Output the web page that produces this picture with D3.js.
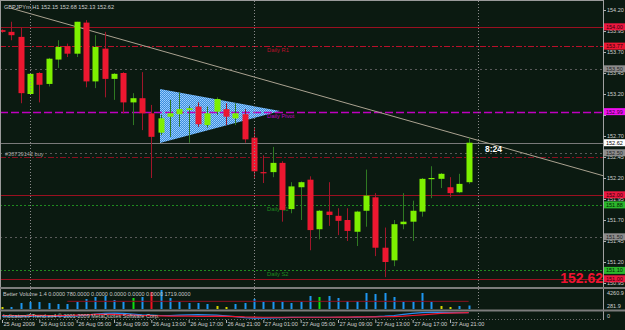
<!DOCTYPE html>
<html>
<head>
<meta charset="utf-8">
<script src="https://cdn.jsdelivr.net/npm/d3@7/dist/d3.min.js"></script>
<style>
body { margin: 0; background: #0b1a11; }
svg { display: block; font-family: "Liberation Sans", Arial, sans-serif; }
</style>
</head>
<body>
<svg id="chart" width="625" height="330"></svg>
<script>
// GBPJPYm H1, bar index 0 = 26 Aug 2009 00:00
var barIdx = d3.range(-3, 48);

var opens  = [153.96,153.94,153.88,153.20,153.45,153.32,153.61,153.77,153.68,154.05,153.35,153.74,153.38,153.45,153.10,153.15,152.97,152.74,152.93,152.96,153.01,153.05,152.83,152.99,153.02,152.91,152.96,152.68,152.27,152.27,152.38,151.83,152.09,152.18,151.59,151.80,151.75,151.70,151.56,151.81,151.97,151.37,151.22,151.65,151.68,151.80,152.20,152.19,152.09,152.03,152.15];
var highs  = [153.97,154.06,153.99,153.45,153.46,153.63,153.84,153.80,154.06,154.08,153.90,153.94,153.45,153.46,153.21,153.46,153.07,152.95,153.13,153.22,153.06,153.10,153.05,153.16,153.09,153.09,153.02,152.80,152.47,152.57,152.40,152.15,152.16,152.22,151.82,152.15,151.84,151.84,151.81,152.30,152.02,151.61,151.70,152.02,151.93,152.20,152.34,152.26,152.21,152.25,152.68];
var lows   = [153.93,153.84,153.09,153.19,153.10,153.29,153.51,153.64,153.64,153.28,153.27,153.16,153.13,152.97,152.83,152.77,152.20,152.71,152.69,152.81,152.62,152.81,152.80,152.95,152.83,152.83,152.62,152.20,152.14,152.21,151.68,151.78,151.70,151.34,151.47,151.63,151.52,151.45,151.39,151.62,151.27,151.02,151.15,151.59,151.45,151.74,151.96,152.08,151.97,152.02,152.13];
var closes = [153.94,153.90,153.21,153.44,153.31,153.62,153.76,153.68,154.06,153.35,153.76,153.38,153.44,153.10,153.15,152.97,152.69,152.91,152.97,153.02,153.03,152.84,152.97,153.14,152.93,152.97,152.66,152.28,152.26,152.38,151.82,152.10,152.15,151.58,151.81,151.76,151.69,151.57,151.80,151.99,151.37,151.20,151.65,151.68,151.81,152.19,152.20,152.25,152.02,152.13,152.62];

// Better Volume 1.4
var volumes = [450,450,1340,1570,1570,1340,1120,1120,1570,2240,2690,2920,2020,1570,2470,2690,3810,4261,2470,1570,1340,1340,1120,670,450,1120,1340,2240,1570,1570,1570,1340,1570,2920,2690,2920,2470,1790,1790,3590,3360,3590,2690,1570,1570,3590,1570,670,450,670,780];
var volSignal = ["low","n","n","n","n","n","n","n","n","n","n","n","n","n","churn","n","climax","n","n","n","n","n","n","low","low","n","n","n","n","n","n","n","n","n","churn","n","n","n","n","n","n","n","n","n","n","n","n","low","low","n","n"];
var volAvg = 1719;

// lower indicator (two lines)
var indRed  = [50,50,48,50,52,50,48,50,55,60,65,68,65,60,55,50,48,45,42,40,40,38,38,40,38,35,30,28,25,25,25,25,25,25,25,25,28,28,30,30,30,32,35,40,50,60,70,80,85,88,90];
var indBlue = [40,40,38,40,42,40,38,40,45,55,70,80,85,80,70,60,55,50,50,55,60,62,60,55,45,35,20,12,12,15,20,22,25,25,25,25,25,25,28,30,35,40,50,65,80,90,95,95,92,90,90];

var timeTicks  = [-3,1,5,9,13,17,21,25,29,33,37,41,45];
var timeLabels = ["25 Aug 2009","26 Aug 01:00","26 Aug 05:00","26 Aug 09:00","26 Aug 13:00","26 Aug 17:00","26 Aug 21:00","27 Aug 01:00","27 Aug 05:00","27 Aug 09:00","27 Aug 13:00","27 Aug 17:00","27 Aug 21:00"];
var priceTicks = [154.20,153.95,153.70,153.45,153.20,152.95,152.70,152.45,152.20,151.95,151.70,151.45,151.20,150.95];
var daySeps = [0, 24, 48];

var roundLevels  = [154.00, 152.00, 151.00];
var dottedLevels = [153.50, 152.50, 151.50];
var pivotNames   = ["Daily R1", "Daily Pivot", "Daily S1", "Daily S2"];
var pivotPrices  = [153.77, 152.99, 151.88, 151.10];
var orderPrice = 152.45, orderLabel = "#38739142 buy";
var bid = 152.62;
var header = "GBPJPYm,H1 152.15 152.68 152.13 152.62";
var volHeader = "Better Volume 1.4 0.0000 780.0000 0.0000 0.0000 0.0000 0.0000 1719.0000";
var timer = "8:24";

var trendPts = [[-2, 154.22], [47, 152.68]];
var triangle = [[13.93, 153.26], [26.8, 152.998], [13.93, 152.617]];

var svg = d3.select("#chart");
var W = 625, plotR = 603, plotB = 287;

var x = d3.scaleLinear().domain([-3, 48]).range([2, 478]);
var y = d3.scaleLinear().domain([150.95, 154.20]).range([283, 10]);
var vy = d3.scaleLinear().domain([0, 4260.9]).range([309, 290]);
var iy = d3.scaleLinear().domain([0, 100]).range([319, 312]);

svg.append("rect").attr("width", W).attr("height", 330).attr("fill", "#0b1a11");

var defs = svg.append("defs");
defs.append("clipPath").attr("id", "clipMain")
  .append("rect").attr("x", 0).attr("y", 0).attr("width", plotR).attr("height", plotB);
var pat = defs.append("pattern").attr("id", "hatch")
  .attr("width", 2).attr("height", 2).attr("patternUnits", "userSpaceOnUse");
pat.append("rect").attr("width", 2).attr("height", 2).attr("fill", "#3d8ede");
pat.append("rect").attr("width", 1).attr("height", 1).attr("fill", "#9fd0ff");
pat.append("rect").attr("x", 1).attr("y", 1).attr("width", 1).attr("height", 1).attr("fill", "#8cc4f8");

var main = svg.append("g").attr("clip-path", "url(#clipMain)");

// triangle object
main.append("path")
  .attr("d", d3.line().x(function(d){ return x(d[0]); }).y(function(d){ return y(d[1]); })(triangle) + "Z")
  .attr("fill", "url(#hatch)");

// horizontal levels
function hline(p, color, dash, w) {
  main.append("line")
    .attr("x1", 0).attr("x2", plotR)
    .attr("y1", Math.round(y(p)) + 0.5).attr("y2", Math.round(y(p)) + 0.5)
    .attr("stroke", color).attr("stroke-width", w || 1)
    .attr("stroke-dasharray", dash);
}
dottedLevels.forEach(function(p){ hline(p, "#5a5a5a", "2,3"); });
roundLevels.forEach(function(p){ hline(p, "#9a1020", null); });
var pivotColors = ["#b8102a", "#c000c0", "#1f8a1f", "#1f8a1f"];
var pivotDash = ["6,2,2,2", "8,3", "2,2", "2,2"];
pivotPrices.forEach(function(p, i){
  hline(p, pivotColors[i], pivotDash[i], i === 1 ? 1.6 : 1);
  main.append("text").attr("x", 267).attr("y", y(p) + 6)
    .attr("font-size", 5.8).attr("fill", pivotColors[i]).text(pivotNames[i]);
});
hline(orderPrice, "#8a1020", "6,2,2,2");
hline(bid, "#7a7a7a", null);
main.append("text").attr("x", 5).attr("y", y(orderPrice) - 1.5)
  .attr("font-size", 5.6).attr("fill", "#a8a8a8").text(orderLabel);

// day separators
daySeps.forEach(function(d){
  svg.append("line")
    .attr("x1", Math.round(x(d)) + 0.5).attr("x2", Math.round(x(d)) + 0.5)
    .attr("y1", 1).attr("y2", 320)
    .attr("stroke", "#8a8a8a").attr("stroke-dasharray", "1,2");
});

// trend line
var slope = (trendPts[1][1] - trendPts[0][1]) / (trendPts[1][0] - trendPts[0][0]);
var endIdx = x.invert(plotR);
main.append("line")
  .attr("x1", x(trendPts[0][0])).attr("y1", y(trendPts[0][1]))
  .attr("x2", plotR).attr("y2", y(trendPts[0][1] + slope * (endIdx - trendPts[0][0])))
  .attr("stroke", "#aaa290").attr("stroke-width", 1);

// candles
var bars = barIdx.map(function(b, i){
  return { i: b, o: opens[i], h: highs[i], l: lows[i], c: closes[i] };
});
var cg = main.append("g");
cg.selectAll("line.wick").data(bars).enter().append("line")
  .attr("x1", function(d){ return Math.round(x(d.i)) + 0.5; })
  .attr("x2", function(d){ return Math.round(x(d.i)) + 0.5; })
  .attr("y1", function(d){ return y(d.h); })
  .attr("y2", function(d){ return y(d.l); })
  .attr("stroke", function(d){ return d.c >= d.o ? "#2f7a22" : "#a0162a"; });
cg.selectAll("rect").data(bars).enter().append("rect")
  .attr("x", function(d){ return Math.round(x(d.i)) - 2.5; })
  .attr("width", 6)
  .attr("y", function(d){ return y(Math.max(d.o, d.c)); })
  .attr("height", function(d){ return Math.max(1.2, Math.abs(y(d.o) - y(d.c))); })
  .attr("fill", function(d){ return d.c >= d.o ? "#7df000" : "#ec1730"; });

// header and labels
svg.append("text").attr("x", 4).attr("y", 8.5).attr("font-size", 5.6)
  .attr("fill", "#d0d0d0").text(header);
svg.append("text").attr("x", 485).attr("y", y(bid) + 9).attr("font-size", 8.5)
  .attr("font-weight", "bold").attr("fill", "#ffffff").text(timer);
svg.append("text").attr("x", plotR).attr("y", 283).attr("text-anchor", "end")
  .attr("font-size", 14).attr("font-weight", "bold").attr("fill", "#ee1230")
  .text(bid.toFixed(2));

// frame
svg.append("line").attr("x1", 0).attr("x2", plotR).attr("y1", 0.5).attr("y2", 0.5).attr("stroke", "#9a9a9a");
svg.append("line").attr("x1", 0.5).attr("x2", 0.5).attr("y1", 0).attr("y2", 320).attr("stroke", "#9a9a9a");
svg.append("line").attr("x1", plotR + 0.5).attr("x2", plotR + 0.5).attr("y1", 0).attr("y2", 320).attr("stroke", "#a0a0a0");

// price boxes drawn over the axis; axis labels hidden where a box covers them
var boxPrices = roundLevels.concat(dottedLevels, pivotPrices, [bid]);

// right price axis
var yAxis = d3.axisRight(y).tickValues(priceTicks).tickSize(3)
  .tickFormat(function(d){ return d.toFixed(2); });
var ya = svg.append("g").attr("transform", "translate(" + plotR + ",0)").call(yAxis);
ya.select(".domain").remove();
ya.selectAll("line").attr("stroke", "#b0b0b0");
ya.selectAll("text").attr("font-size", 5.5).attr("fill", "#d0d0d0").attr("x", 4)
  .attr("display", function(d){
    return boxPrices.some(function(p){ return Math.abs(y(p) - y(d)) < 4; }) ? "none" : null;
  });

function box(p, fill, txt) {
  var yy = y(p);
  svg.append("rect").attr("x", 604).attr("y", yy - 3.5).attr("width", 21).attr("height", 7).attr("fill", fill);
  svg.append("text").attr("x", 606).attr("y", yy + 2).attr("font-size", 5.5)
    .attr("fill", txt).text(p.toFixed(2));
}
roundLevels.forEach(function(p){ box(p, "#ec1740", "#300008"); });
dottedLevels.forEach(function(p){ box(p, "#8c8c8c", "#202020"); });
box(pivotPrices[0], "#ec1733", "#300008");
box(pivotPrices[1], "#f010f0", "#300030");
box(pivotPrices[2], "#2cb82c", "#002000");
box(pivotPrices[3], "#2cb82c", "#002000");
box(bid, "#ffffff", "#000000");

// separators for sub windows
svg.append("rect").attr("x", 0).attr("y", 287).attr("width", W).attr("height", 2).attr("fill", "#7c7c7c");
svg.append("rect").attr("x", 0).attr("y", 309.5).attr("width", W).attr("height", 2).attr("fill", "#7c7c7c");

// volume panel
var volColor = { n: "#1e96f0", low: "#d8d800", churn: "#10e010", climax: "#f01020" };
svg.append("g").selectAll("rect").data(volumes).enter().append("rect")
  .attr("x", function(d, i){ return Math.round(x(barIdx[i])) - 0.5; })
  .attr("width", 2)
  .attr("y", function(d){ return vy(d); })
  .attr("height", function(d){ return 309 - vy(d); })
  .attr("fill", function(d, i){ return volColor[volSignal[i]]; });
svg.append("line").attr("x1", x(4)).attr("x2", x(47))
  .attr("y1", vy(volAvg)).attr("y2", vy(volAvg)).attr("stroke", "#8c1020");
svg.append("text").attr("x", 3).attr("y", 296).attr("font-size", 5.5)
  .attr("fill", "#c8c8c8").text(volHeader);
svg.append("text").attr("x", 607).attr("y", 295).attr("font-size", 5.5).attr("fill", "#d0d0d0").text("4260.9");
svg.append("text").attr("x", 607).attr("y", 308).attr("font-size", 5.5).attr("fill", "#d0d0d0").text("281.9");

// lower indicator panel
var iline = d3.line().x(function(d, i){ return x(barIdx[i]); }).y(function(d){ return iy(d); });
svg.append("path").attr("d", iline(indBlue)).attr("fill", "none").attr("stroke", "#2a8cf0").attr("stroke-width", 1.2);
svg.append("path").attr("d", iline(indRed)).attr("fill", "none").attr("stroke", "#f01830").attr("stroke-width", 1.2);
svg.append("text").attr("x", 3).attr("y", 318).attr("font-size", 5.5)
  .attr("fill", "#c8c8c8").text("Indicators\\FTrend.ex4  \u00a9 2001-2009 MetaQuotes Software Corp.");
svg.append("line").attr("x1", 0).attr("x2", plotR).attr("y1", 319.5).attr("y2", 319.5)
  .attr("stroke", "#6a6a6a").attr("stroke-dasharray", "1,2");
svg.append("text").attr("x", 607).attr("y", 318).attr("font-size", 5.5).attr("fill", "#d0d0d0").text("0");

// time axis
var xAxis = d3.axisBottom(x).tickValues(timeTicks).tickSize(3)
  .tickFormat(function(d, i){ return timeLabels[i]; });
var xa = svg.append("g").attr("transform", "translate(0,320)").call(xAxis);
xa.select(".domain").remove();
xa.selectAll("line").attr("stroke", "#b0b0b0");
xa.selectAll("text").attr("font-size", 5.6).attr("fill", "#d0d0d0")
  .attr("text-anchor", "start").attr("x", 1).attr("y", 2);
</script>
</body>
</html>
